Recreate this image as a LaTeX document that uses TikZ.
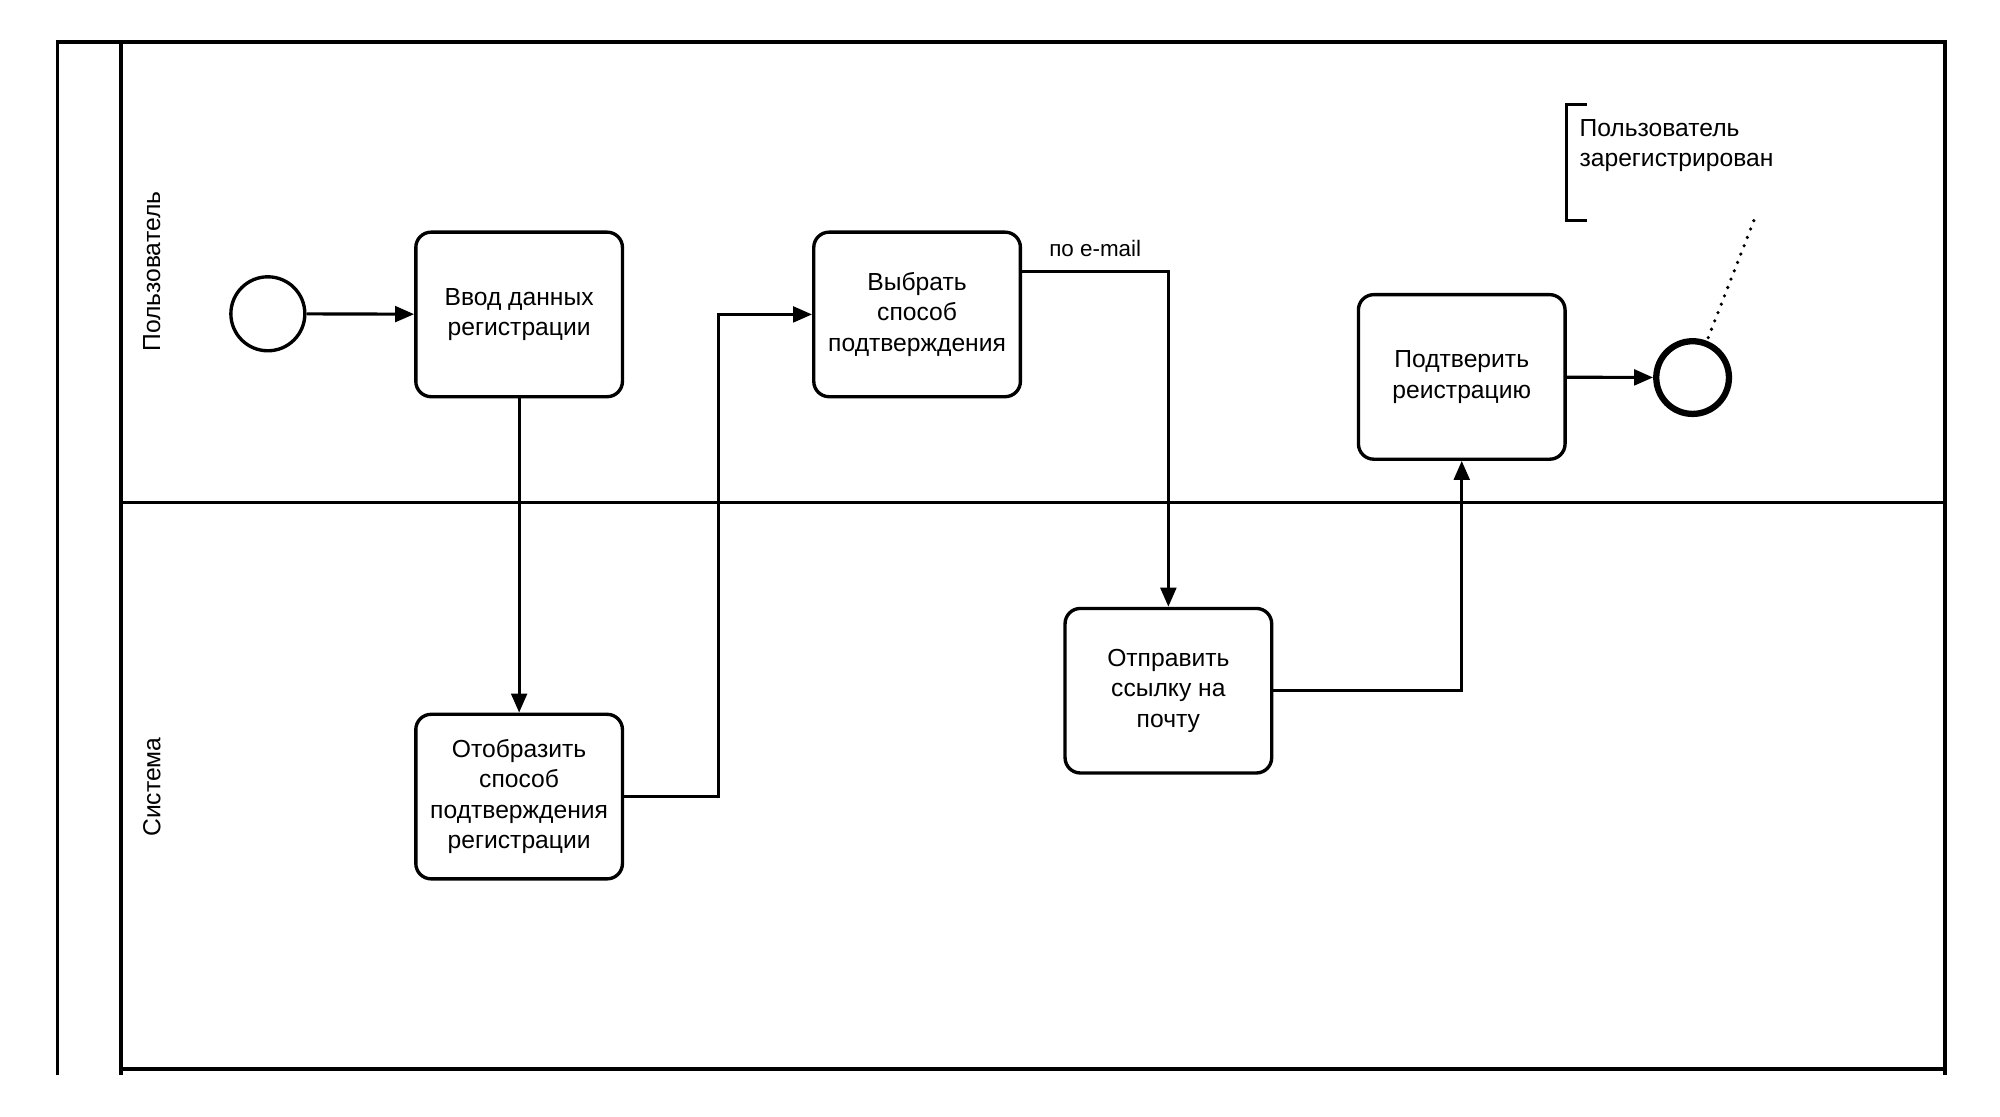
\documentclass[tikz,border=0pt]{standalone}
\usepackage{fontspec}
\setmainfont{Liberation Sans}
\usetikzlibrary{arrows.meta, positioning, shapes.geometric}

\begin{document}
\begin{tikzpicture}[
    x=0.2mm, y=-0.2mm,
    task/.style={rectangle, draw, line width=1.5pt, rounded corners=2.4mm, minimum width=32.4mm, minimum height=25.8mm, align=center, inner sep=1pt, font=\fontsize{11}{13.6}\selectfont},
    event/.style={circle, draw, line width=1.5pt, minimum size=11.6mm, inner sep=0pt},
    endevent/.style={event, line width=2.8pt, minimum size=11.4mm},
    flow/.style={-{Triangle[length=8.5pt, width=7pt]}, line width=1.4pt},
    lane/.style={line width=1.5pt},
    lanelabel/.style={rotate=90, font=\fontsize{11}{13.6}\selectfont},
    note/.style={align=left, inner sep=0pt, font=\fontsize{11}{13.6}\selectfont},
]
\useasboundingbox (0,0) rectangle (1568,875);

% пул и дорожки
\draw[lane] (45,843) -- (45,33) -- (1525,33) -- (1525,843);
\draw[lane] (95,33) -- (95,843);
\draw[lane] (95,394) -- (1525,394);
\draw[lane] (95,838) -- (1525,838);
\node[lanelabel] (userlane) at (119,213) {Пользователь};
\node[lanelabel] (syslane) at (119,617) {Система};

% события
\node[event] (start) at (210,246) {};
\node[endevent] (end) at (1327,296) {};

% задачи
\node[task] (input) at (407,246.5) {Ввод данных\\регистрации};
\node[task] (choose) at (719,246.5) {Выбрать\\способ\\подтверждения};
\node[task] (show) at (407,624.5) {Отобразить\\способ\\подтверждения\\регистрации};
\node[task] (send) at (916,541.5) {Отправить\\ссылку на\\почту};
\node[task] (confirm) at (1146,295.5) {Подтверить\\реистрацию};

% аннотация
\coordinate (brtop) at (1228,82);
\coordinate (brbot) at (1228,173);
\coordinate (assoc) at (1375,173);
\node[note, anchor=north west] (result) at (1238,93) {Пользователь\\зарегистрирован};
\draw[lane] ([xshift=3.2mm]brtop) -- (brtop) -- (brbot) -- ([xshift=3.2mm]brbot);
\draw[line width=1.6pt, line cap=round, dash pattern=on 0pt off 4pt] (assoc) -- (end);

% потоки
\draw[flow] (start) -- (input);
\draw[flow] (input) -- (show);
\draw[flow] (show.east) -- ++(74,0) |- (choose.west);
\draw[flow] ([yshift=6.7mm]choose.east) -| node[pos=0.25, above=1mm, font=\fontsize{10}{12}\selectfont] (email) {по e-mail} (send);
\draw[flow] (send.east) -| (confirm);
\draw[flow] (confirm) -- (end);

\end{tikzpicture}
\end{document}
